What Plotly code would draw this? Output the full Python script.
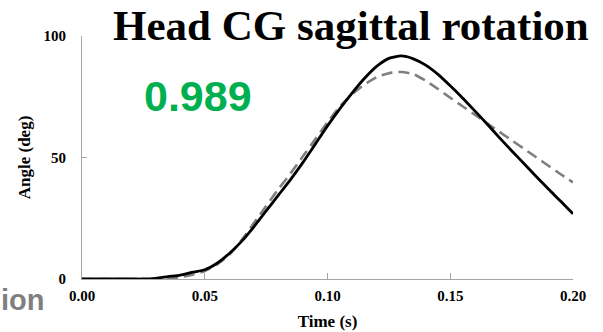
import plotly.graph_objects as go

time_s = [0.000, 0.005, 0.010, 0.015, 0.020, 0.025, 0.030, 0.035, 0.040, 0.045,
          0.050, 0.055, 0.060, 0.065, 0.070, 0.075, 0.080, 0.085, 0.090, 0.095,
          0.100, 0.105, 0.110, 0.115, 0.120, 0.125, 0.130, 0.135, 0.140, 0.145,
          0.150, 0.155, 0.160, 0.165, 0.170, 0.175, 0.180, 0.185, 0.190, 0.195,
          0.200]

experiment_deg = [0, 0, 0, 0, 0, 0, 0.3, 1.0, 1.6, 2.8,
                  3.8, 6.5, 10.5, 15.5, 21.5, 28, 34.5, 41, 48, 55.5,
                  63, 70, 76.5, 82.5, 87.5, 90.8, 91.8, 90.6, 88, 84.2,
                  79.5, 74.5, 69.2, 63.8, 58.2, 52.8, 47.5, 42.2, 37, 32,
                  26.8]

model_deg = [0, 0, 0, 0, 0, 0, 0, 0, 0.8, 1.8,
             3.3, 6, 10, 16, 23, 30, 37, 43.5, 50.5, 57.5,
             64.5, 71, 76, 80, 83, 84.7, 85.2, 84.3, 81.6, 78.2,
             74.6, 71.1, 67.6, 64.1, 60.6, 57.1, 53.6, 50.1, 46.6, 43.1,
             39.8]

x_ticks = [0.00, 0.05, 0.10, 0.15, 0.20]
x_tick_labels = ["0.00", "0.05", "0.10", "0.15", "0.20"]
y_ticks = [0, 50, 100]
y_tick_labels = ["0", "50", "100"]

title_text = "Head CG sagittal rotation"
score_text = "0.989"
cut_text = "ion"

serif = "Liberation Serif, Times New Roman, serif"
sans = "Liberation Sans, Arial, sans-serif"

fig = go.Figure()
fig.add_trace(go.Scatter(
    x=time_s, y=model_deg, mode="lines",
    line=dict(color="#7f7f7f", width=2.6, dash="11px,6px", shape="spline", smoothing=0.6),
    showlegend=False, cliponaxis=True))
fig.add_trace(go.Scatter(
    x=time_s, y=experiment_deg, mode="lines",
    line=dict(color="#000000", width=2.8, shape="spline", smoothing=0.6),
    showlegend=False, cliponaxis=True))

axis_color = "#a6a6a6"
fig.update_layout(
    width=603, height=332,
    margin=dict(l=82, r=30, t=36, b=53),
    paper_bgcolor="white", plot_bgcolor="white",
    xaxis=dict(range=[0, 0.2], tickvals=x_ticks, ticktext=x_tick_labels,
               automargin=False,
               showgrid=False, zeroline=False, showline=True, linecolor=axis_color,
               linewidth=1, ticks="inside", ticklen=6, tickcolor=axis_color,
               tickfont=dict(family=serif, size=15, color="black", weight="bold"),
               ticklabelstandoff=3,
               title=dict(text="<b>Time (s)</b>", font=dict(family=serif, size=17, color="black"),
                          standoff=12)),
    yaxis=dict(range=[0, 100], tickvals=y_ticks, ticktext=y_tick_labels,
               automargin=False,
               showgrid=False, zeroline=False, showline=True, linecolor=axis_color,
               linewidth=1, ticks="inside", ticklen=5, tickcolor=axis_color,
               tickfont=dict(family=serif, size=15, color="black", weight="bold"),
               ticklabelstandoff=12,
               title=dict(text="<b>Angle (deg)</b>", font=dict(family=serif, size=17, color="black"),
                          standoff=8)),
)

fig.add_annotation(text="<b>" + title_text + "</b>", xref="paper", yref="paper",
                   x=(351 - 82) / 491, y=(279 - 26) / 243, xanchor="center", yanchor="middle",
                   showarrow=False, font=dict(family=serif, size=43, color="black"))
fig.add_annotation(text="<b>" + score_text + "</b>", xref="paper", yref="paper",
                   x=(198 - 82) / 491, y=(279 - 96) / 243, xanchor="center", yanchor="middle",
                   showarrow=False, font=dict(family=sans, size=43, color="#00b050"))
fig.add_annotation(text="<b>" + cut_text + "</b>", xref="paper", yref="paper",
                   x=(-1 - 82) / 491, y=(279 - 300) / 243, xanchor="left", yanchor="middle",
                   showarrow=False, font=dict(family=sans, size=29, color="#7f7f7f"))

fig.write_html("out.html")
